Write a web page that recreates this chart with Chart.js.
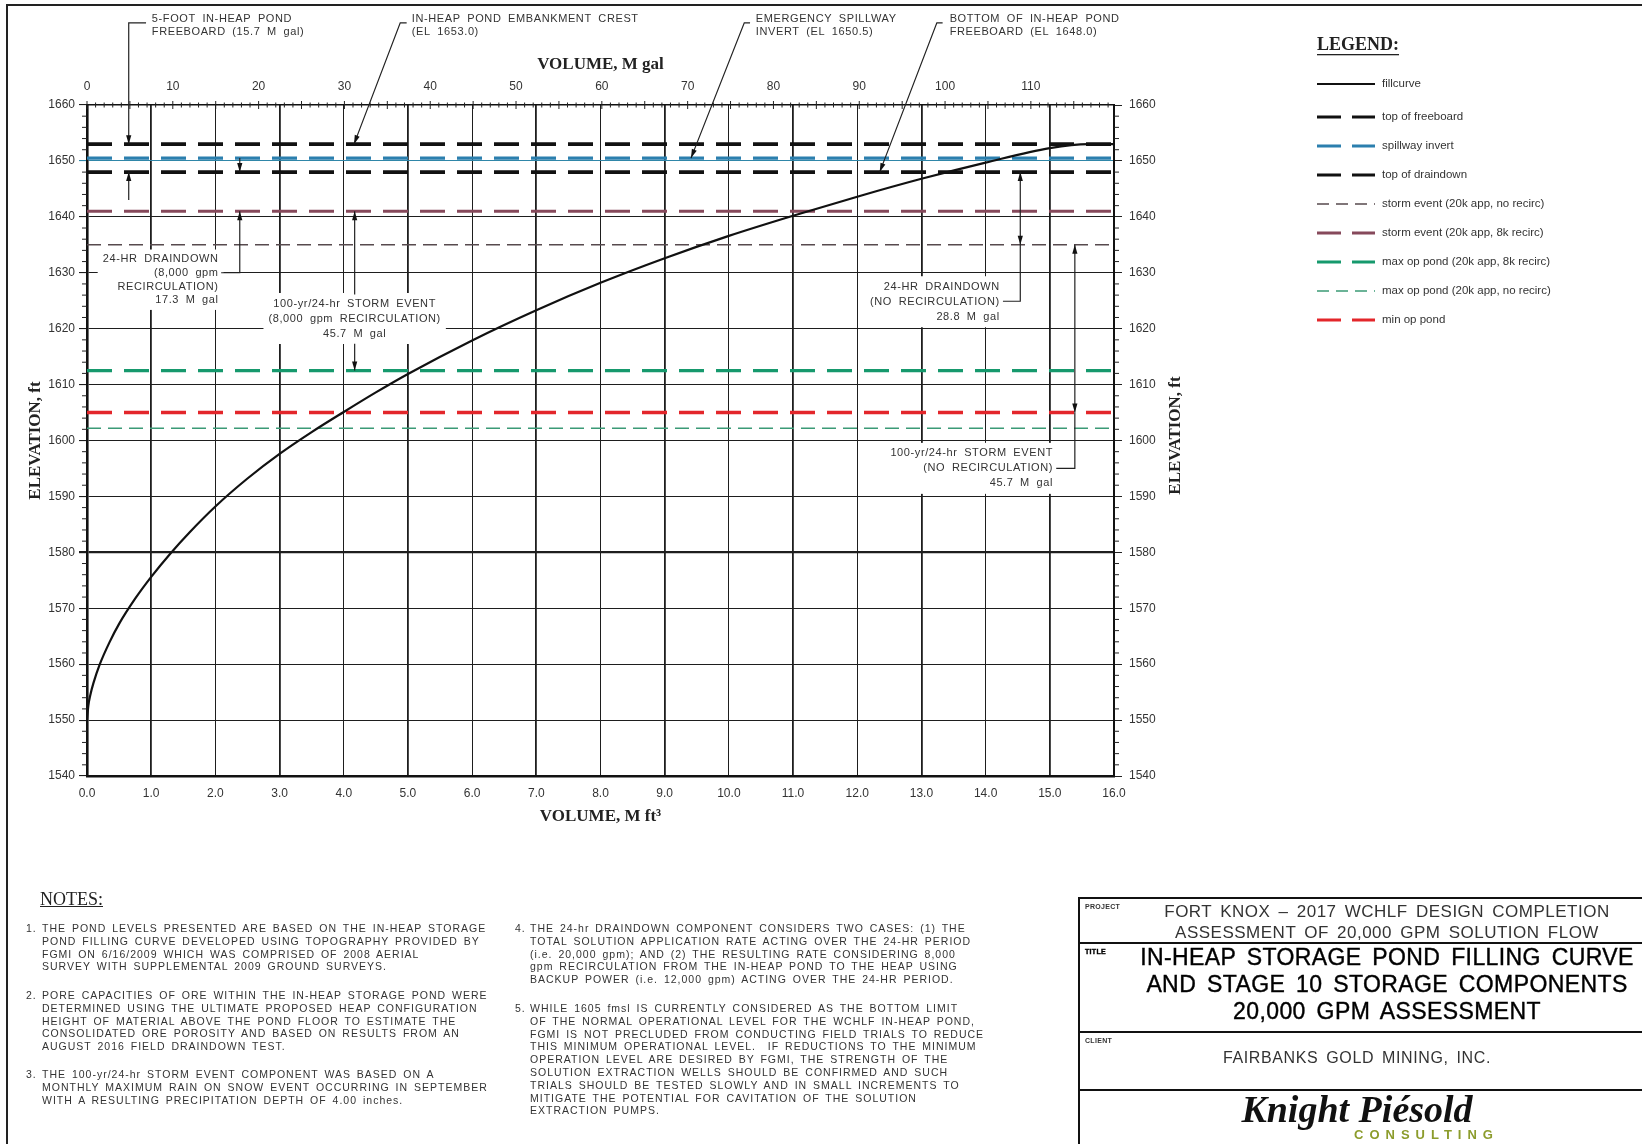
<!DOCTYPE html>
<html lang="en">
<head>
<meta charset="UTF-8">
<title>In-Heap Storage Pond Filling Curve</title>
<script src="https://cdn.jsdelivr.net/npm/chart.js"></script>
<style>
    body { margin: 0; background: #fff; font-family: "Liberation Sans", Arial, sans-serif; }
    .page { position: relative; width: 1642px; height: 1144px; overflow: hidden; background: #fff; }
    .frame { position: absolute; left: 6px; top: 4px; width: 1700px; height: 1200px; border: 2px solid #222; }
    .chart-box { position: absolute; left: 0; top: 0; width: 1642px; height: 1144px; }
    .notes-head { position: absolute; left: 40px; top: 889px; font: 18px "Liberation Serif", serif; text-decoration: underline; color: #222; }
    .note { position: absolute; font-size: 10.5px; line-height: 12.8px; color: #333; letter-spacing: 1px; word-spacing: 2px; white-space: nowrap; }
    .note .n { position: absolute; left: 0; top: 0; }
    .note .t { position: absolute; top: 0; }
    .tb { position: absolute; left: 1078px; top: 897px; width: 614px; height: 300px; border: 2px solid #111; color: #222; }
    .tb .row { position: relative; border-bottom: 2px solid #111; text-align: center; white-space: nowrap; box-sizing: border-box; }
    .tb .tag { position: absolute; left: 5px; top: 4px; font-size: 7px; font-weight: bold; letter-spacing: 0.3px; line-height: 8px; }
    .tb .project { height: 45px; font-size: 17px; line-height: 21px; padding-top: 2px; letter-spacing: 0.5px; word-spacing: 3px; color: #333; }
    .tb .title { height: 89px; font-size: 23px; line-height: 27px; padding-top: 0px; letter-spacing: 0.4px; word-spacing: 4px; color: #000; -webkit-text-stroke: 0.4px #000; }
    .tb .client { height: 58px; font-size: 16px; padding: 16px 60px 0 0; letter-spacing: 0.6px; word-spacing: 3px; color: #333; }
    .tb .logo { border-bottom: none; height: 60px; }
    .tb .kp { position: absolute; left: 0; width: 554px; top: -2px; font: italic bold 38px "Liberation Serif", serif; color: #111; line-height: 40px; }
    .tb .cons { position: absolute; left: 274px; top: 36px; font: bold 13px "Liberation Sans", sans-serif; letter-spacing: 6px; color: #8c9c2c; }
</style>
</head>
<body>
<div class="page">
    <div class="frame"></div>
    <div class="chart-box"><canvas id="fillChart"></canvas></div>

    <div class="notes-head">NOTES:</div>
    <div class="note" style="left:26px; top:922px"><span class="n">1.</span><div class="t" style="left:16px">THE POND LEVELS PRESENTED ARE BASED ON THE IN-HEAP STORAGE<br>POND FILLING CURVE DEVELOPED USING TOPOGRAPHY PROVIDED BY<br>FGMI ON 6/16/2009 WHICH WAS COMPRISED OF 2008 AERIAL<br>SURVEY WITH SUPPLEMENTAL 2009 GROUND SURVEYS.</div></div>
    <div class="note" style="left:26px; top:989px"><span class="n">2.</span><div class="t" style="left:16px">PORE CAPACITIES OF ORE WITHIN THE IN-HEAP STORAGE POND WERE<br>DETERMINED USING THE ULTIMATE PROPOSED HEAP CONFIGURATION<br>HEIGHT OF MATERIAL ABOVE THE POND FLOOR TO ESTIMATE THE<br>CONSOLIDATED ORE POROSITY AND BASED ON RESULTS FROM AN<br>AUGUST 2016 FIELD DRAINDOWN TEST.</div></div>
    <div class="note" style="left:26px; top:1068px"><span class="n">3.</span><div class="t" style="left:16px">THE 100-yr/24-hr STORM EVENT COMPONENT WAS BASED ON A<br>MONTHLY MAXIMUM RAIN ON SNOW EVENT OCCURRING IN SEPTEMBER<br>WITH A RESULTING PRECIPITATION DEPTH OF 4.00 inches.</div></div>
    <div class="note" style="left:515px; top:922px"><span class="n">4.</span><div class="t" style="left:15px">THE 24-hr DRAINDOWN COMPONENT CONSIDERS TWO CASES: (1) THE<br>TOTAL SOLUTION APPLICATION RATE ACTING OVER THE 24-HR PERIOD<br>(i.e. 20,000 gpm); AND (2) THE RESULTING RATE CONSIDERING 8,000<br>gpm RECIRCULATION FROM THE IN-HEAP POND TO THE HEAP USING<br>BACKUP POWER (i.e. 12,000 gpm) ACTING OVER THE 24-HR PERIOD.</div></div>
    <div class="note" style="left:515px; top:1002px"><span class="n">5.</span><div class="t" style="left:15px">WHILE 1605 fmsl IS CURRENTLY CONSIDERED AS THE BOTTOM LIMIT<br>OF THE NORMAL OPERATIONAL LEVEL FOR THE WCHLF IN-HEAP POND,<br>FGMI IS NOT PRECLUDED FROM CONDUCTING FIELD TRIALS TO REDUCE<br>THIS MINIMUM OPERATIONAL LEVEL.&nbsp; IF REDUCTIONS TO THE MINIMUM<br>OPERATION LEVEL ARE DESIRED BY FGMI, THE STRENGTH OF THE<br>SOLUTION EXTRACTION WELLS SHOULD BE CONFIRMED AND SUCH<br>TRIALS SHOULD BE TESTED SLOWLY AND IN SMALL INCREMENTS TO<br>MITIGATE THE POTENTIAL FOR CAVITATION OF THE SOLUTION<br>EXTRACTION PUMPS.</div></div>

    <div class="tb">
        <div class="row project"><span class="tag">PROJECT</span>FORT KNOX – 2017 WCHLF DESIGN COMPLETION<br>ASSESSMENT OF 20,000 GPM SOLUTION FLOW</div>
        <div class="row title"><span class="tag">TITLE</span>IN-HEAP STORAGE POND FILLING CURVE<br>AND STAGE 10 STORAGE COMPONENTS<br>20,000 GPM ASSESSMENT</div>
        <div class="row client"><span class="tag">CLIENT</span>FAIRBANKS GOLD MINING, INC.</div>
        <div class="row logo"><div class="kp">Knight Piésold</div><div class="cons">CONSULTING</div></div>
    </div>
</div>

<script>
    // fill curve (volume in M ft3, elevation in ft)
    const volumeFt3 = [0, 0.02, 0.05, 0.1, 0.2, 0.35, 0.5, 0.75, 1.0, 1.3, 1.6, 2.0, 2.5, 3.0, 3.5, 4.0, 4.5, 5.0, 6.0, 7.0, 8.0, 9.0, 10.0, 11.0, 12.0, 13.0, 14.0, 15.0, 15.6, 16.0];
    const fillElev  = [1550, 1552.5, 1554.4, 1556.6, 1560, 1563.9, 1567.2, 1571.7, 1575.6, 1579.8, 1583.6, 1588.2, 1593.2, 1597.6, 1601.5, 1605.1, 1608.6, 1611.9, 1617.9, 1623.3, 1628.2, 1632.6, 1636.6, 1640.2, 1643.6, 1646.8, 1649.7, 1652.3, 1653, 1653];

    // horizontal pond levels
    const levelLabels = ['top of freeboard', 'spillway invert', 'top of draindown',
        'storm event (20k app, no recirc)', 'storm event (20k app, 8k recirc)',
        'max op pond (20k app, 8k recirc)', 'max op pond (20k app, no recirc)', 'min op pond'];
    const levelElev = [1653.0, 1650.5, 1648.0, 1635.0, 1641.0, 1612.5, 1602.2, 1605.0];

    // axis ticks
    const ft3Ticks  = [0, 1, 2, 3, 4, 5, 6, 7, 8, 9, 10, 11, 12, 13, 14, 15, 16];
    const galTicks  = [0, 10, 20, 30, 40, 50, 60, 70, 80, 90, 100, 110];
    const elevTicks = [1540, 1550, 1560, 1570, 1580, 1590, 1600, 1610, 1620, 1630, 1640, 1650, 1660];
    const GAL_PER_FT3 = 7.48052;

    const thick = [25, 12], thin = [14, 7];
    const levelStyle = {
        'top of freeboard':                 { color: '#111111', width: 3.6, dash: thick },
        'spillway invert':                  { color: '#2b7fae', width: 3.4, dash: thick },
        'top of draindown':                 { color: '#111111', width: 3.6, dash: thick },
        'storm event (20k app, no recirc)': { color: '#574a4e', width: 1.4, dash: thin },
        'storm event (20k app, 8k recirc)': { color: '#86495b', width: 3.0, dash: thick },
        'max op pond (20k app, 8k recirc)': { color: '#16996d', width: 3.4, dash: thick },
        'max op pond (20k app, no recirc)': { color: '#3b9a76', width: 1.4, dash: thin },
        'min op pond':                      { color: '#e3262b', width: 3.6, dash: thick }
    };

    const datasets = [{
        label: 'fillcurve',
        data: volumeFt3.map((v, i) => ({ x: v, y: fillElev[i] })),
        borderColor: '#111', borderWidth: 2.2, borderDash: [],
        cubicInterpolationMode: 'monotone'
    }];
    levelLabels.forEach((name, i) => {
        const st = levelStyle[name];
        datasets.push({
            label: name,
            data: [{ x: ft3Ticks[0], y: levelElev[i] }, { x: ft3Ticks[ft3Ticks.length - 1], y: levelElev[i] }],
            borderColor: st.color, borderWidth: st.width, borderDash: st.dash
        });
    });
    datasets.forEach(d => { d.showLine = true; d.pointRadius = 0; d.fill = false; });

    // callout notes, anchored in data units (M ft3, ft)
    const callouts = [
        { lines: ['5-FOOT IN-HEAP POND', 'FREEBOARD (15.7 M gal)'], v: 1.01, e: 1675.4, align: 'left', lh: 13.5, box: false },
        { lines: ['IN-HEAP POND EMBANKMENT CREST', '(EL 1653.0)'], v: 5.06, e: 1675.4, align: 'left', lh: 13.5, box: false },
        { lines: ['EMERGENCY SPILLWAY', 'INVERT (EL 1650.5)'], v: 10.42, e: 1675.4, align: 'left', lh: 13.5, box: false },
        { lines: ['BOTTOM OF IN-HEAP POND', 'FREEBOARD (EL 1648.0)'], v: 13.44, e: 1675.4, align: 'left', lh: 13.5, box: false },
        { lines: ['24-HR DRAINDOWN', '(8,000 gpm', 'RECIRCULATION)', '17.3 M gal'], v: 2.05, e: 1632.4, align: 'right', lh: 13.6, box: true },
        { lines: ['100-yr/24-hr STORM EVENT', '(8,000 gpm RECIRCULATION)', '45.7 M gal'], v: 4.17, e: 1624.5, align: 'center', lh: 15, box: true },
        { lines: ['24-HR DRAINDOWN', '(NO RECIRCULATION)', '28.8 M gal'], v: 14.22, e: 1627.5, align: 'right', lh: 15, box: true },
        { lines: ['100-yr/24-hr STORM EVENT', '(NO RECIRCULATION)', '45.7 M gal'], v: 15.05, e: 1597.7, align: 'right', lh: 15, box: true }
    ];
    const leaders = [
        { pts: [[0.92, 1674.7], [0.65, 1674.7], [0.65, 1653]], head: 'end' },
        { pts: [[0.65, 1643], [0.65, 1648]], head: 'end' },
        { pts: [[4.98, 1674.7], [4.88, 1674.7], [4.16, 1653]], head: 'end' },
        { pts: [[10.33, 1674.7], [10.24, 1674.7], [9.41, 1650.5]], head: 'end' },
        { pts: [[13.33, 1674.7], [13.24, 1674.7], [12.35, 1648]], head: 'end' },
        { pts: [[2.38, 1650.5], [2.38, 1648]], head: 'end' },
        { pts: [[2.09, 1630.0], [2.38, 1630.0], [2.38, 1641]], head: 'end' },
        { pts: [[4.17, 1626.1], [4.17, 1641]], head: 'end' },
        { pts: [[4.17, 1617.3], [4.17, 1612.5]], head: 'end' },
        { pts: [[14.27, 1624.9], [14.54, 1624.9], [14.54, 1635]], head: 'none' },
        { pts: [[14.54, 1635], [14.54, 1648]], head: 'both' },
        { pts: [[15.1, 1595.0], [15.39, 1595.0], [15.39, 1605]], head: 'none' },
        { pts: [[15.39, 1605], [15.39, 1635]], head: 'both' }
    ];

    const CAD_FONT = '11px "Liberation Sans", Arial, sans-serif';
    const SERIF_BOLD = 'bold 17px "Liberation Serif", "DejaVu Serif", serif';

    function arrowHead(ctx, x1, y1, x2, y2) {
        const a = Math.atan2(y2 - y1, x2 - x1), len = 9, w = 2.6;
        ctx.beginPath();
        ctx.moveTo(x2, y2);
        ctx.lineTo(x2 - len * Math.cos(a) + w * Math.sin(a), y2 - len * Math.sin(a) - w * Math.cos(a));
        ctx.lineTo(x2 - len * Math.cos(a) - w * Math.sin(a), y2 - len * Math.sin(a) + w * Math.cos(a));
        ctx.closePath();
        ctx.fill();
    }

    function setCadFont(ctx) {
        ctx.font = CAD_FONT;
        if ('letterSpacing' in ctx) ctx.letterSpacing = '0.6px';
        if ('wordSpacing' in ctx) ctx.wordSpacing = '3px';
    }

    const calloutPlugin = {
        id: 'callouts',
        beforeDatasetsDraw(chart) {
            const ctx = chart.ctx, sx = chart.scales.x, sy = chart.scales.y;
            ctx.save();
            setCadFont(ctx);
            ctx.textBaseline = 'middle';
            callouts.forEach(c => {
                const px = sx.getPixelForValue(c.v), py = sy.getPixelForValue(c.e);
                ctx.textAlign = c.align;
                if (c.box) {
                    const w = Math.max(...c.lines.map(l => ctx.measureText(l).width));
                    const left = c.align === 'left' ? px : c.align === 'right' ? px - w : px - w / 2;
                    ctx.fillStyle = '#fff';
                    ctx.fillRect(left - 5, py - c.lh / 2 - 3, w + 10, c.lh * c.lines.length + 6);
                }
                ctx.fillStyle = '#333';
                c.lines.forEach((l, i) => ctx.fillText(l, px, py + i * c.lh));
            });
            ctx.restore();
        },
        afterDatasetsDraw(chart) {
            const ctx = chart.ctx, sx = chart.scales.x, sy = chart.scales.y;
            ctx.save();
            ctx.strokeStyle = '#222';
            ctx.fillStyle = '#111';
            ctx.lineWidth = 1.2;
            leaders.forEach(ld => {
                const p = ld.pts.map(([v, e]) => [sx.getPixelForValue(v), sy.getPixelForValue(e)]);
                ctx.beginPath();
                p.forEach(([x, y], i) => i ? ctx.lineTo(x, y) : ctx.moveTo(x, y));
                ctx.stroke();
                const n = p.length;
                if (ld.head === 'end' || ld.head === 'both') arrowHead(ctx, p[n - 2][0], p[n - 2][1], p[n - 1][0], p[n - 1][1]);
                if (ld.head === 'start' || ld.head === 'both') arrowHead(ctx, p[1][0], p[1][1], p[0][0], p[0][1]);
            });
            ctx.restore();
        },
        afterDraw(chart) {
            const ctx = chart.ctx, sy = chart.scales.y, sg = chart.scales.x2;
            const area = chart.chartArea;
            ctx.save();
            // ruler ticks along top axis (every 1 M gal)
            ctx.strokeStyle = '#222';
            ctx.lineWidth = 1;
            for (let g = 0; g <= sg.max; g += 1) {
                const x = sg.getPixelForValue(g), h = g % 5 === 0 ? 4 : 2.5;
                ctx.beginPath(); ctx.moveTo(x, area.top - h); ctx.lineTo(x, area.top + h); ctx.stroke();
            }
            // minor elevation ticks every 2 ft on both sides
            for (let e = elevTicks[0]; e <= elevTicks[elevTicks.length - 1]; e += 2) {
                if (e % 10 === 0) continue;
                const y = sy.getPixelForValue(e);
                ctx.beginPath(); ctx.moveTo(area.left - 5, y); ctx.lineTo(area.left, y); ctx.stroke();
                ctx.beginPath(); ctx.moveTo(area.right, y); ctx.lineTo(area.right + 5, y); ctx.stroke();
            }
            // right axis title reads bottom-to-top like the left one
            ctx.font = SERIF_BOLD;
            ctx.fillStyle = '#222';
            ctx.textAlign = 'center';
            ctx.textBaseline = 'middle';
            ctx.translate(area.right + 62, (area.top + area.bottom) / 2 - 5);
            ctx.rotate(-Math.PI / 2);
            ctx.fillText('ELEVATION, ft', 0, 0);
            ctx.restore();

            // legend
            ctx.save();
            const lx = area.right + 203;
            ctx.font = 'bold 18px "Liberation Serif", serif';
            ctx.fillStyle = '#222';
            ctx.textBaseline = 'middle';
            ctx.textAlign = 'left';
            ctx.fillText('LEGEND:', lx, 45);
            const tw = ctx.measureText('LEGEND:').width;
            ctx.fillRect(lx, 54, tw, 1.3);
            ctx.font = '11.5px "Liberation Sans", Arial, sans-serif';
            chart.data.datasets.forEach((d, i) => {
                const y = i === 0 ? 84 : 117 + (i - 1) * 29;
                ctx.strokeStyle = d.borderColor;
                ctx.lineWidth = Math.min(d.borderWidth, 3.2);
                const dash = d.borderDash.length ? (d.borderWidth > 2 ? [24, 11] : [12, 7]) : [];
                ctx.setLineDash(dash);
                ctx.beginPath(); ctx.moveTo(lx, y); ctx.lineTo(lx + 58, y); ctx.stroke();
                ctx.setLineDash([]);
                ctx.fillStyle = '#333';
                ctx.fillText(d.label, lx + 65, y);
            });
            ctx.restore();
        }
    };

    const tickFont = { family: '"Liberation Sans", Arial, sans-serif', size: 12 };
    const titleFont = { family: '"Liberation Serif", "DejaVu Serif", serif', size: 17, weight: 'bold' };
    const plain = v => String(v);

    new Chart(document.getElementById('fillChart'), {
        type: 'scatter',
        data: { datasets: datasets },
        plugins: [calloutPlugin],
        options: {
            responsive: true,
            maintainAspectRatio: false,
            animation: false,
            layout: { padding: { left: 18, top: 50, right: 454, bottom: 313 } },
            plugins: { legend: { display: false }, tooltip: { enabled: false } },
            scales: {
                x: {
                    type: 'linear', position: 'bottom', min: 0, max: 16,
                    afterBuildTicks: s => { s.ticks = ft3Ticks.map(v => ({ value: v })); },
                    afterFit: s => { s.height = 55; },
                    ticks: { font: tickFont, color: '#333', padding: 10, callback: v => Number(v).toFixed(1) },
                    grid: {
                        drawTicks: false,
                        color: '#1e1e1e',
                        lineWidth: c => (c.tick && c.tick.value % 2 === 1) ? 1.8 : 1.0
                    },
                    border: { display: true, color: '#111', width: 2.6 },
                    title: { display: true, text: 'VOLUME, M ft³', font: titleFont, color: '#222', padding: 4 }
                },
                x2: {
                    type: 'linear', position: 'top', min: 0, max: 16 * GAL_PER_FT3,
                    afterBuildTicks: s => { s.ticks = galTicks.map(v => ({ value: v })); },
                    afterFit: s => { s.height = 55; },
                    ticks: { font: tickFont, color: '#333', padding: 11, callback: plain },
                    grid: { drawOnChartArea: false, drawTicks: false },
                    border: { display: true, color: '#111', width: 1.6 },
                    title: { display: true, text: 'VOLUME, M gal', font: titleFont, color: '#222', padding: 4 }
                },
                y: {
                    type: 'linear', position: 'left', min: 1540, max: 1660,
                    afterBuildTicks: s => { s.ticks = elevTicks.map(v => ({ value: v })); },
                    afterFit: s => { s.width = 69; },
                    ticks: { font: tickFont, color: '#333', padding: 4, callback: plain },
                    grid: {
                        tickLength: 8,
                        color: c => (c.tick && c.tick.value === 1650) ? '#2f86a8' : '#1e1e1e',
                        lineWidth: c => (c.tick && c.tick.value === 1580) ? 2.2 : 1.1
                    },
                    border: { display: true, color: '#111', width: 2.6 },
                    title: { display: true, text: 'ELEVATION, ft', font: titleFont, color: '#222', padding: { top: 7, bottom: 4 } }
                },
                y2: {
                    type: 'linear', position: 'right', min: 1540, max: 1660,
                    afterBuildTicks: s => { s.ticks = elevTicks.map(v => ({ value: v })); },
                    afterFit: s => { s.width = 74; },
                    ticks: { font: tickFont, color: '#333', padding: 7, callback: plain },
                    grid: { drawOnChartArea: false, tickLength: 8, color: '#222' },
                    border: { display: true, color: '#111', width: 2 }
                }
            }
        }
    });
</script>
</body>
</html>
